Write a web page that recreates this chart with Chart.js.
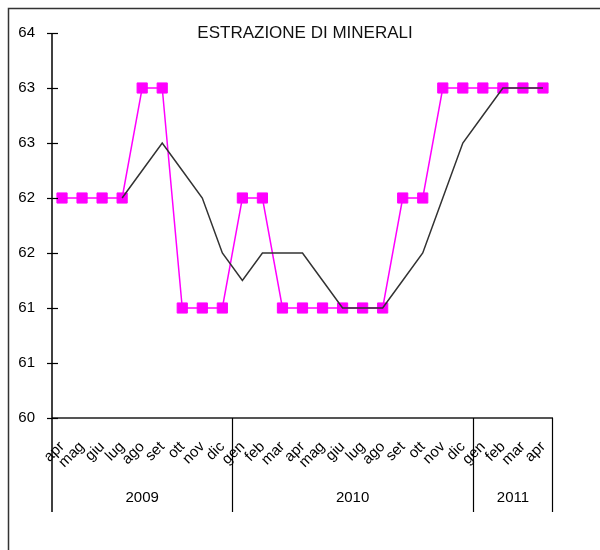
<!DOCTYPE html>
<html><head><meta charset="utf-8">
<script src="https://cdn.jsdelivr.net/npm/chart.js@4"></script>
<style>html,body{margin:0;padding:0;background:#fff}canvas{display:block}</style>
</head><body>
<canvas id="c" width="600" height="550"></canvas>
<script>
const months = ['apr','mag','giu','lug','ago','set','ott','nov','dic','gen','feb','mar','apr','mag','giu','lug','ago','set','ott','nov','dic','gen','feb','mar','apr'];
const years = ['2009','2010','2011'];
const monthsPerYear = [9, 12, 4];
const extraction = [62,62,62,62,63,63,61,61,61,62,62,61,61,61,61,61,61,62,62,63,63,63,63,63,63];
const movingAverage = [null,null,null,62,62.25,62.5,62.25,62,61.5,61.25,61.5,61.5,61.5,61.25,61,61,61,61.25,61.5,62,62.5,62.75,63,63,63];
const yMin = 60, yMax = 63.5, yStep = 0.5;
const chartTitle = 'ESTRAZIONE DI MINERALI';

const FONT = '"Liberation Sans", Arial, sans-serif';

const decor = {
  id: 'decor',
  beforeDraw(chart) {
    const ctx = chart.ctx;
    ctx.save();
    ctx.fillStyle = '#fff';
    ctx.fillRect(0, 0, chart.width, chart.height);
    ctx.strokeStyle = '#333';
    ctx.lineWidth = 1.5;
    ctx.strokeRect(8.5, 8.5, 800, 800);
    ctx.restore();
  },
  afterDraw(chart) {
    const ctx = chart.ctx;
    const x = chart.scales.x, y = chart.scales.y;
    const area = chart.chartArea;
    const groupBottom = area.bottom + 94;
    ctx.save();
    // x axis line
    ctx.strokeStyle = '#555';
    ctx.lineWidth = 2;
    ctx.beginPath();
    ctx.moveTo(area.left, area.bottom);
    ctx.lineTo(area.right, area.bottom);
    ctx.stroke();
    // y axis line
    ctx.strokeStyle = '#000';
    ctx.lineWidth = 1.5;
    ctx.beginPath();
    ctx.moveTo(area.left, area.top);
    ctx.lineTo(area.left, groupBottom);
    ctx.stroke();
    // y tick marks (cross)
    ctx.lineWidth = 1.2;
    y.ticks.forEach(t => {
      const py = Math.round(y.getPixelForValue(t.value)) + 0.5;
      ctx.beginPath();
      ctx.moveTo(area.left - 5, py);
      ctx.lineTo(area.left + 6, py);
      ctx.stroke();
    });
    // year group separators and labels
    ctx.lineWidth = 1.2;
    let start = 0;
    ctx.fillStyle = '#000';
    ctx.font = '15px ' + FONT;
    ctx.textAlign = 'center';
    ctx.textBaseline = 'middle';
    const drawSep = (px) => {
      ctx.beginPath();
      ctx.moveTo(px, area.bottom);
      ctx.lineTo(px, groupBottom);
      ctx.stroke();
    };
    years.forEach((yr, i) => {
      const end = start + monthsPerYear[i];
      const pl = x.getPixelForValue(start - 0.5);
      const pr = x.getPixelForValue(end - 0.5);
      if (i > 0) drawSep(Math.round(pl) + 0.5);
      if (i === years.length - 1) drawSep(Math.round(pr) - 0.5);
      ctx.fillText(yr, (pl + pr) / 2, area.bottom + 80);
      start = end;
    });
    // title
    ctx.font = '17px ' + FONT;
    ctx.fillStyle = '#111';
    ctx.fillText(chartTitle, 305, 33);
    ctx.restore();
  }
};

new Chart(document.getElementById('c'), {
  type: 'line',
  data: {
    labels: months,
    datasets: [
      {
        label: 'Media mobile',
        data: movingAverage,
        borderColor: '#333',
        borderWidth: 1.5,
        pointRadius: 0,
        tension: 0,
        fill: false,
        spanGaps: false
      },
      {
        label: 'Estrazione',
        data: extraction,
        borderColor: '#ff00ff',
        backgroundColor: '#ff00ff',
        borderWidth: 1.5,
        pointStyle: 'rect',
        pointRadius: 7.2,
        pointBorderWidth: 1,
        pointBackgroundColor: '#ff00ff',
        pointBorderColor: '#ff00ff',
        tension: 0,
        fill: false
      }
    ]
  },
  options: {
    responsive: false,
    animation: false,
    devicePixelRatio: 1,
    layout: { padding: { top: 33, right: 47, left: 0, bottom: 0 } },
    plugins: { legend: { display: false }, title: { display: false }, tooltip: { enabled: false } },
    scales: {
      x: {
        type: 'category',
        offset: true,
        grid: { display: false, drawTicks: false },
        border: { display: false },
        ticks: {
          autoSkip: false,
          maxRotation: 45,
          minRotation: 45,
          padding: 20,
          color: '#000',
          font: { family: FONT, size: 15 }
        },
        afterFit(s) { s.height = 132; }
      },
      y: {
        min: yMin,
        max: yMax,
        grid: { display: false, drawTicks: false },
        border: { display: false },
        ticks: {
          stepSize: yStep,
          padding: 17,
          color: '#000',
          font: { family: FONT, size: 15 },
          callback: (v) => String(Math.round(v))
        },
        afterFit(s) { s.width = 52; }
      }
    }
  },
  plugins: [decor]
});
</script>
</body></html>
